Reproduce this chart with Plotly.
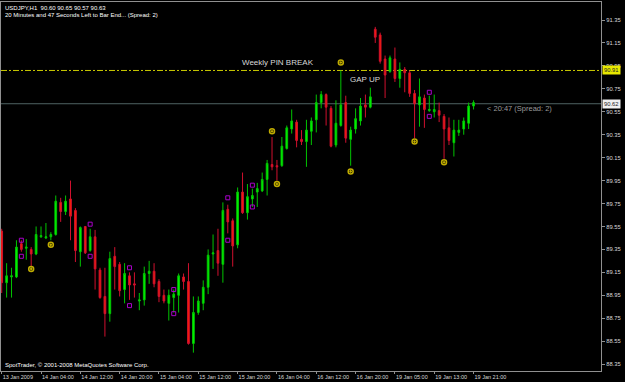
import plotly.graph_objects as go

# ---------------- data ----------------
bar_index = list(range(97))

opens = [89.51, 89.06, 89.11, 89.11, 89.40, 89.36, 89.35, 89.31, 89.46, 89.45,
         89.46, 89.48, 89.76, 89.68, 89.79, 89.69, 89.33, 89.55, 89.34, 89.46,
         89.17, 88.94, 88.79, 89.29, 89.22, 89.00, 89.12, 89.05, 88.90, 88.91,
         89.14, 89.16, 89.07, 88.95, 88.88, 88.93, 88.95, 89.11, 89.07, 88.53,
         88.80, 88.88, 89.02, 89.31, 89.34, 89.22, 89.70, 89.60, 89.39, 89.85,
         89.67, 89.79, 89.85, 89.86, 89.96, 90.09, 90.08, 90.08, 90.23, 90.40,
         90.46, 90.31, 90.29, 90.38, 90.48, 90.63, 90.70, 90.58, 90.26, 90.43,
         90.63, 90.31, 90.40, 90.47, 90.61, 90.59, 91.27, 91.22, 91.01, 90.90,
         91.01, 90.84, 90.92, 90.89, 90.71, 90.61, 90.67, 90.56, 90.55, 90.56,
         90.51, 90.41, 90.28, 90.37, 90.40, 90.45, 90.60]

highs = [89.53, 89.23, 89.19, 89.43, 89.43, 89.44, 89.37, 89.55, 89.55, 89.58,
         89.50, 89.82, 89.80, 89.82, 89.95, 89.71, 89.55, 89.55, 89.53, 89.52,
         89.19, 89.19, 89.33, 89.37, 89.24, 89.23, 89.15, 89.15, 88.97, 89.20,
         89.25, 89.23, 89.09, 89.00, 89.00, 89.00, 89.14, 89.14, 89.23, 88.94,
         88.94, 89.08, 89.35, 89.48, 89.53, 89.76, 89.74, 89.62, 89.89, 90.02,
         89.92, 89.88, 89.93, 90.02, 90.13, 90.33, 90.13, 90.33, 90.43, 90.57,
         90.48, 90.39, 90.48, 90.50, 90.70, 90.73, 90.71, 90.60, 90.65, 90.91,
         90.69, 90.42, 90.58, 90.67, 90.70, 90.76, 91.29, 91.24, 91.04, 91.04,
         91.11, 90.98, 90.94, 90.91, 90.74, 90.84, 90.70, 90.69, 90.70, 90.63,
         90.53, 90.50, 90.48, 90.48, 90.50, 90.63, 90.65]

lows = [88.97, 88.93, 88.93, 89.10, 89.33, 89.26, 89.20, 89.30, 89.45, 89.44,
        89.43, 89.47, 89.59, 89.65, 89.43, 89.24, 89.20, 89.31, 89.33, 89.00,
        88.92, 88.59, 88.72, 89.00, 88.94, 88.88, 88.91, 88.93, 88.82, 88.86,
        89.05, 89.02, 88.89, 88.88, 88.73, 88.80, 88.80, 89.00, 88.52, 88.45,
        88.78, 88.82, 88.96, 89.18, 89.12, 89.06, 89.49, 89.20, 89.36, 89.66,
        89.61, 89.72, 89.72, 89.85, 89.82, 90.04, 89.95, 90.07, 90.22, 90.36,
        90.24, 90.26, 90.07, 90.26, 90.37, 90.58, 90.43, 90.24, 90.24, 90.42,
        90.28, 90.08, 90.36, 90.43, 90.50, 90.58, 91.15, 90.97, 90.67, 90.89,
        90.81, 90.76, 90.72, 90.68, 90.32, 90.42, 90.41, 90.55, 90.50, 90.46,
        90.14, 90.26, 90.16, 90.34, 90.35, 90.40, 90.57]

closes = [89.06, 89.12, 89.12, 89.37, 89.35, 89.37, 89.31, 89.48, 89.47, 89.46,
          89.48, 89.77, 89.68, 89.77, 89.64, 89.34, 89.54, 89.32, 89.46, 89.18,
          88.93, 88.79, 89.27, 89.20, 88.99, 89.14, 89.04, 89.04, 88.91, 89.14,
          89.16, 89.05, 88.94, 88.90, 88.95, 88.96, 89.12, 89.07, 88.53, 88.80,
          88.90, 89.02, 89.30, 89.32, 89.23, 89.69, 89.59, 89.38, 89.85, 89.67,
          89.81, 89.82, 89.88, 89.96, 90.10, 90.07, 90.07, 90.25, 90.41, 90.47,
          90.30, 90.29, 90.39, 90.47, 90.63, 90.70, 90.59, 90.25, 90.45, 90.61,
          90.32, 90.39, 90.49, 90.60, 90.59, 90.68, 91.20, 90.99, 90.87, 91.02,
          90.84, 90.92, 90.89, 90.71, 90.62, 90.68, 90.57, 90.57, 90.57, 90.52,
          90.40, 90.30, 90.39, 90.39, 90.47, 90.60, 90.63]

# pin-bar markers (yellow circles)
pin_idx = [6, 10, 55, 56, 69, 71, 84, 90]
pin_price = [89.18, 89.39, 90.38, 89.92, 90.98, 90.03, 90.29, 90.11]

# inside-bar markers (magenta rectangles)
ib_idx = [4, 4, 18, 18, 26, 26, 35, 35, 46, 46, 51, 51, 87, 87]
ib_price = [89.43, 89.29, 89.57, 89.29, 89.19, 88.86, 89.00, 88.79,
            89.80, 89.43, 89.91, 89.72, 90.72, 90.51]

time_tick_idx = [0, 8, 16, 24, 32, 40, 48, 56, 64, 72, 80, 88, 96]
time_tick_labels = ["13 Jan 2009", "14 Jan 04:00", "14 Jan 12:00", "14 Jan 20:00",
                    "15 Jan 04:00", "15 Jan 12:00", "15 Jan 20:00", "16 Jan 04:00",
                    "16 Jan 12:00", "16 Jan 20:00", "19 Jan 05:00", "19 Jan 13:00",
                    "19 Jan 21:00"]

price_ticks = [88.35, 88.55, 88.75, 88.95, 89.15, 89.35, 89.55, 89.75,
               89.95, 90.15, 90.35, 90.55, 90.75, 90.95, 91.15, 91.35]

pin_break_level = 90.91
bid_level = 90.62

FONT = "Liberation Sans, Arial, sans-serif"

fig = go.Figure()

fig.add_trace(go.Candlestick(
    x=bar_index, open=opens, high=highs, low=lows, close=closes,
    increasing=dict(line=dict(color="#00c400", width=1), fillcolor="#00ff00"),
    decreasing=dict(line=dict(color="#d0102e", width=1), fillcolor="#ff2200"),
    whiskerwidth=0, hoverinfo="skip", showlegend=False))

fig.add_trace(go.Scatter(
    x=pin_idx, y=pin_price, mode="markers", hoverinfo="skip", showlegend=False,
    marker=dict(symbol="circle-open-dot", size=5, color="#c0ac00",
                line=dict(width=1.5, color="#c0ac00"))))

fig.add_trace(go.Scatter(
    x=ib_idx, y=ib_price, mode="markers", hoverinfo="skip", showlegend=False,
    marker=dict(symbol="square-open", size=4, color="#a800c8",
                line=dict(width=1, color="#a800c8"))))

shapes = [
    dict(type="line", xref="paper", x0=0, x1=1, yref="y",
         y0=pin_break_level, y1=pin_break_level, layer="below",
         line=dict(color="#c8c800", width=1, dash="6px,2px,2px,2px")),
    dict(type="line", xref="paper", x0=0, x1=1, yref="y",
         y0=bid_level, y1=bid_level, layer="below",
         line=dict(color="#4f6262", width=1)),
]

hdr = dict(family=FONT, size=6, color="#ffffff")
annotations = [
    dict(xref="paper", yref="paper", x=0, y=1, xanchor="left", yanchor="top",
         xshift=2, yshift=-1, showarrow=False, font=hdr,
         text="USDJPY,H1\u00a0\u00a090.60 90.65 90.57 90.63"),
    dict(xref="paper", yref="paper", x=0, y=1, xanchor="left", yanchor="top",
         xshift=2, yshift=-8, showarrow=False, font=hdr,
         text="20 Minutes and 47 Seconds Left to Bar End... (Spread: 2)"),
    dict(xref="paper", yref="paper", x=0, y=0, xanchor="left", yanchor="bottom",
         xshift=2, yshift=1, showarrow=False, font=hdr,
         text="SpotTrader, © 2001-2008 MetaQuotes Software Corp."),
    dict(xref="x", yref="y", x=48.5, y=pin_break_level, xanchor="left",
         yanchor="bottom", yshift=1, showarrow=False,
         font=dict(family=FONT, size=8, color="#d8d8d8"), text="Weekly PIN BREAK"),
    dict(xref="x", yref="y", x=73.9, y=90.835, xanchor="center", yanchor="middle",
         showarrow=False, font=dict(family=FONT, size=8, color="#d8d8d8"),
         text="GAP UP"),
    dict(xref="x", yref="y", x=98.3, y=90.58, xanchor="left", yanchor="middle",
         showarrow=False, font=dict(family=FONT, size=7.5, color="#9a9a9a"),
         text="< 20:47 (Spread: 2)"),
    dict(xref="paper", yref="y", x=1, y=pin_break_level, xanchor="left",
         yanchor="middle", xshift=1, showarrow=False, bgcolor="#e8e800",
         borderpad=1, font=dict(family=FONT, size=5.8, color="#202020"),
         text=f"{pin_break_level:.2f}"),
    dict(xref="paper", yref="y", x=1, y=bid_level, xanchor="left",
         yanchor="middle", xshift=1, showarrow=False, bgcolor="#f0f0f0",
         borderpad=1, font=dict(family=FONT, size=5.8, color="#202020"),
         text=f"{bid_level:.2f}"),
]

fig.update_layout(
    width=625, height=382,
    margin=dict(l=1, r=24, t=2, b=11, pad=0),
    paper_bgcolor="#000000", plot_bgcolor="#000000",
    showlegend=False, hovermode=False,
    boxgap=0.5,
    shapes=shapes, annotations=annotations,
    xaxis=dict(range=[-0.142, 121.93], tickvals=time_tick_idx, ticktext=time_tick_labels,
               ticks="outside", ticklen=2, tickcolor="#909090", tickangle=0,
               ticklabelposition="outside right",
               tickfont=dict(family=FONT, size=5.5, color="#d8d8d8"),
               showgrid=False, zeroline=False, showline=True,
               linecolor="#909090", linewidth=1, mirror=True,
               rangeslider=dict(visible=False), fixedrange=True),
    yaxis=dict(range=[88.29, 91.507], side="right", tickvals=price_ticks,
               ticktext=[f"{v:.2f}" for v in price_ticks],
               ticks="outside", ticklen=3, tickcolor="#909090",
               tickfont=dict(family=FONT, size=5.8, color="#d8d8d8"),
               showgrid=False, zeroline=False, showline=True,
               linecolor="#909090", linewidth=1, mirror=True, fixedrange=True),
)

fig.write_html("out.html")
